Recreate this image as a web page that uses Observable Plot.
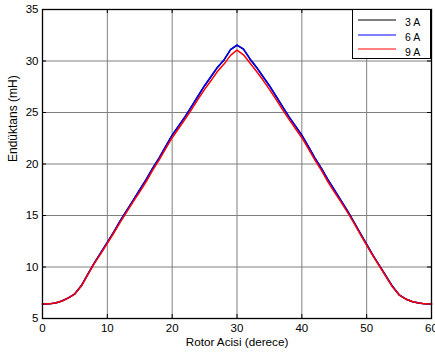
<!DOCTYPE html>
<html>
<head>
<meta charset="utf-8">
<script src="https://cdn.jsdelivr.net/npm/d3@7"></script>
<script src="https://cdn.jsdelivr.net/npm/@observablehq/plot@0.6"></script>
<style>
  html, body { margin: 0; padding: 0; background: #fff; overflow: hidden; }
  #wrap { position: relative; width: 435px; height: 353px; font-family: "Liberation Sans", Arial, sans-serif; }
  #legend { position: absolute; left: 352px; top: 9px; width: 79px; height: 50px; box-sizing: border-box;
            border: 1px solid #000; background: #fff; }
  #legend svg { display: block; }
</style>
</head>
<body>
<div id="wrap"></div>
<script>
const angles = d3.range(0, 61);
const seriesNames = ["3 A", "6 A", "9 A"];
const seriesColors = ["#000000", "#0000ff", "#ff0000"];
const xTicks = [0, 10, 20, 30, 40, 50, 60];
const yTicks = [5, 10, 15, 20, 25, 30, 35];
const xLabel = "Rotor Acisi (derece)";
const yLabel = "Endüktans (mH)";

const values3A = [
  6.4, 6.42, 6.5, 6.7, 7.0, 7.4, 8.2, 9.3, 10.4, 11.4,
  12.4, 13.4, 14.5, 15.5, 16.5, 17.5, 18.5, 19.6, 20.6, 21.7,
  22.8, 23.7, 24.6, 25.6, 26.6, 27.6, 28.5, 29.4, 30.1, 31.1,
  31.55, 31.15, 30.2, 29.4, 28.5, 27.6, 26.6, 25.6, 24.6, 23.7,
  22.8, 21.7, 20.6, 19.6, 18.5, 17.5, 16.5, 15.5, 14.4, 13.3,
  12.2, 11.1, 10.1, 9.1, 8.1, 7.3, 6.9, 6.65, 6.5, 6.42, 6.4
];
const values6A = [
  6.4, 6.42, 6.5, 6.7, 7.0, 7.4, 8.2, 9.3, 10.4, 11.4,
  12.4, 13.4, 14.5, 15.5, 16.5, 17.5, 18.5, 19.6, 20.6, 21.7,
  22.8, 23.7, 24.6, 25.6, 26.6, 27.6, 28.5, 29.4, 30.1, 31.1,
  31.55, 31.15, 30.2, 29.4, 28.5, 27.6, 26.6, 25.6, 24.6, 23.7,
  22.8, 21.7, 20.6, 19.6, 18.5, 17.5, 16.5, 15.5, 14.4, 13.3,
  12.2, 11.1, 10.1, 9.1, 8.1, 7.3, 6.9, 6.65, 6.5, 6.42, 6.4
];
const values9A = [
  6.4, 6.42, 6.5, 6.7, 7.0, 7.4, 8.15, 9.25, 10.35, 11.3,
  12.3, 13.3, 14.35, 15.35, 16.35, 17.3, 18.3, 19.4, 20.4, 21.5,
  22.55, 23.45, 24.35, 25.3, 26.3, 27.25, 28.1, 29.0, 29.7, 30.55,
  31.05, 30.6, 29.8, 29.0, 28.15, 27.25, 26.3, 25.3, 24.35, 23.45,
  22.55, 21.5, 20.4, 19.4, 18.3, 17.3, 16.35, 15.35, 14.3, 13.2,
  12.1, 11.05, 10.05, 9.05, 8.05, 7.3, 6.9, 6.65, 6.5, 6.42, 6.4
];

const allValues = [values3A, values6A, values9A];
const rows = [];
allValues.forEach((vals, s) => {
  vals.forEach((v, i) => rows.push({angle: angles[i], value: v, series: seriesNames[s]}));
});

const W = 435, H = 353;
const mT = 9, mR = 4, mB = 35, mL = 42;
const frameH = H - mT - mB, frameW = W - mL - mR;
const tickLen = 4;
const gridColor = "#808080";
const font = "Liberation Sans, Arial, sans-serif";

const chart = Plot.plot({
  width: W, height: H,
  marginTop: mT, marginRight: mR, marginBottom: mB, marginLeft: mL,
  style: {fontFamily: font, fontSize: "11.5px", color: "#000", background: "#fff", overflow: "visible"},
  x: {domain: [0, 60]},
  y: {domain: [5, 35]},
  color: {domain: seriesNames, range: seriesColors},
  marks: [
    Plot.ruleX(xTicks, {stroke: gridColor, strokeWidth: 1}),
    Plot.ruleY(yTicks, {stroke: gridColor, strokeWidth: 1}),
    Plot.tickX(xTicks, {x: d => d, insetTop: frameH - tickLen, stroke: "#000"}),
    Plot.tickX(xTicks, {x: d => d, insetBottom: frameH - tickLen, stroke: "#000"}),
    Plot.tickY(yTicks, {y: d => d, insetRight: frameW - tickLen, stroke: "#000"}),
    Plot.tickY(yTicks, {y: d => d, insetLeft: frameW - tickLen, stroke: "#000"}),
    Plot.line(rows, {x: "angle", y: "value", z: "series", stroke: "series", strokeWidth: 1.5}),
    Plot.axisX({ticks: xTicks, tickSize: 0, tickPadding: 5, label: null, fontSize: 11.5}),
    Plot.axisY({ticks: yTicks, tickSize: 0, tickPadding: 4, label: null, fontSize: 11.5}),
    Plot.text([xLabel], {text: d => d, frameAnchor: "bottom", dy: 24, fontSize: 11.7, lineAnchor: "middle"}),
    Plot.text([yLabel], {text: d => d, frameAnchor: "left", dx: -29.5, dy: -2, rotate: -90, fontSize: 12, lineAnchor: "middle"}),
    Plot.frame({stroke: "#000", strokeWidth: 1.3})
  ]
});

const wrap = document.getElementById("wrap");
wrap.appendChild(chart);

// legend overlay
const legend = document.createElement("div");
legend.id = "legend";
const lsvg = d3.create("svg").attr("width", 77).attr("height", 48);
const lineY = [10, 25, 39];
const textY = [12.3, 27.3, 42];
seriesNames.forEach((name, i) => {
  lsvg.append("line").attr("x1", 5).attr("x2", 43).attr("y1", lineY[i]).attr("y2", lineY[i])
    .attr("stroke", seriesColors[i]).attr("stroke-width", 1.2);
  lsvg.append("text").attr("x", 52).attr("y", textY[i]).attr("dy", "0.36em")
    .attr("font-family", font).attr("font-size", 10.5).text(name);
});
legend.appendChild(lsvg.node());
wrap.appendChild(legend);
</script>
</body>
</html>
